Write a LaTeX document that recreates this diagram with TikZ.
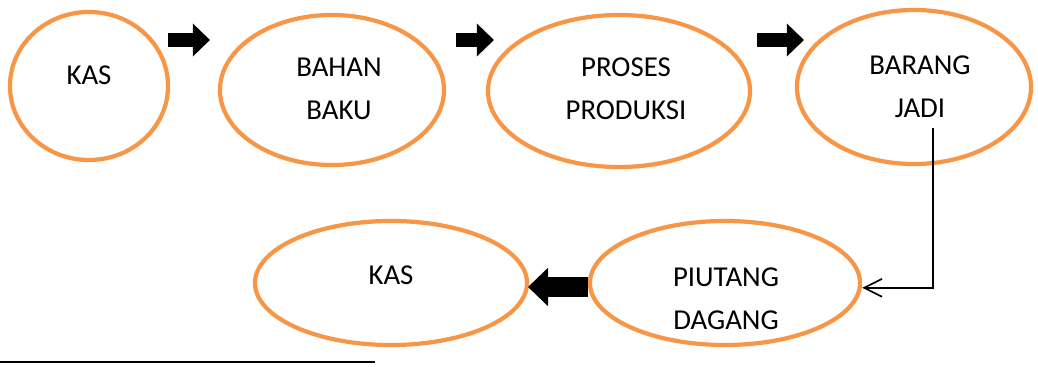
\documentclass[tikz,border=0pt]{standalone}
\usepackage{fontspec}
\setmainfont{Carlito}
\usepackage{xcolor}
\usetikzlibrary{shapes.geometric,arrows.meta}
\definecolor{orng}{RGB}{247,150,70}
\tikzset{
  oval/.style={ellipse,draw=orng,line width=3pt,inner sep=0pt},
  lbl/.style={align=center,font=\fontsize{20.5}{30.5}\selectfont,inner sep=0pt},
  blk/.style={line width=0.37cm,-{Triangle[length=0.43cm,width=0.8cm]}},
  bigblk/.style={line width=0.5cm,-{Triangle[length=0.5cm,width=0.93cm]}},
  conn/.style={line width=1pt,-{Straight Barb[length=0.45cm,width=0.45cm,line width=1.2pt]}}
}
\begin{document}
\begin{tikzpicture}[x=0.025cm,y=-0.025cm]
\useasboundingbox (0,0) rectangle (1038,367);
% top row
\node[oval,minimum width=3.95cm,minimum height=3.7cm] (kas) at (89,86) {};
\node[oval,minimum width=5.6cm,minimum height=3.75cm] (bahan) at (332,90) {};
\node[oval,minimum width=6.55cm,minimum height=3.8cm] (proses) at (619,91) {};
\node[oval,minimum width=5.85cm,minimum height=3.85cm] (barang) at (914,87) {};
% bottom row
\node[oval,minimum width=6.75cm,minimum height=3.1cm] (piutang) at (725,283) {};
\node[oval,minimum width=6.8cm,minimum height=3.1cm] (kasb) at (391,283) {};
% texts
\node[lbl] (kast) at (89,75) {KAS};
\node[lbl] (bahant) at (339,89) {BAHAN\\BAKU};
\node[lbl] (prosest) at (626,89) {PROSES\\PRODUKSI};
\node[lbl] (barangt) at (920,87) {BARANG\\JADI};
\node[lbl] (piutangt) at (726,299) {PIUTANG\\DAGANG};
\node[lbl] (kasbt) at (391,275) {KAS};
% block arrows
\coordinate (a1s) at (168,40); \coordinate (a1e) at (210,40);
\coordinate (a2s) at (456,40); \coordinate (a2e) at (494,40);
\coordinate (a3s) at (757,40); \coordinate (a3e) at (804,40);
\coordinate (a4s) at (588,287); \coordinate (a4e) at (528,287);
\draw[blk] (a1s) -- (a1e);
\draw[blk] (a2s) -- (a2e);
\draw[blk] (a3s) -- (a3e);
\draw[bigblk] (a4s) -- (a4e);
% connector
\coordinate (jadi) at (933,128);
\draw[conn] (jadi) |- ([yshift=-0.12cm]piutang.east);
% footnote rule
\coordinate (r1) at (0,362); \coordinate (r2) at (375,362);
\draw[line width=1.3pt] (r1) -- (r2);
\end{tikzpicture}
\end{document}
